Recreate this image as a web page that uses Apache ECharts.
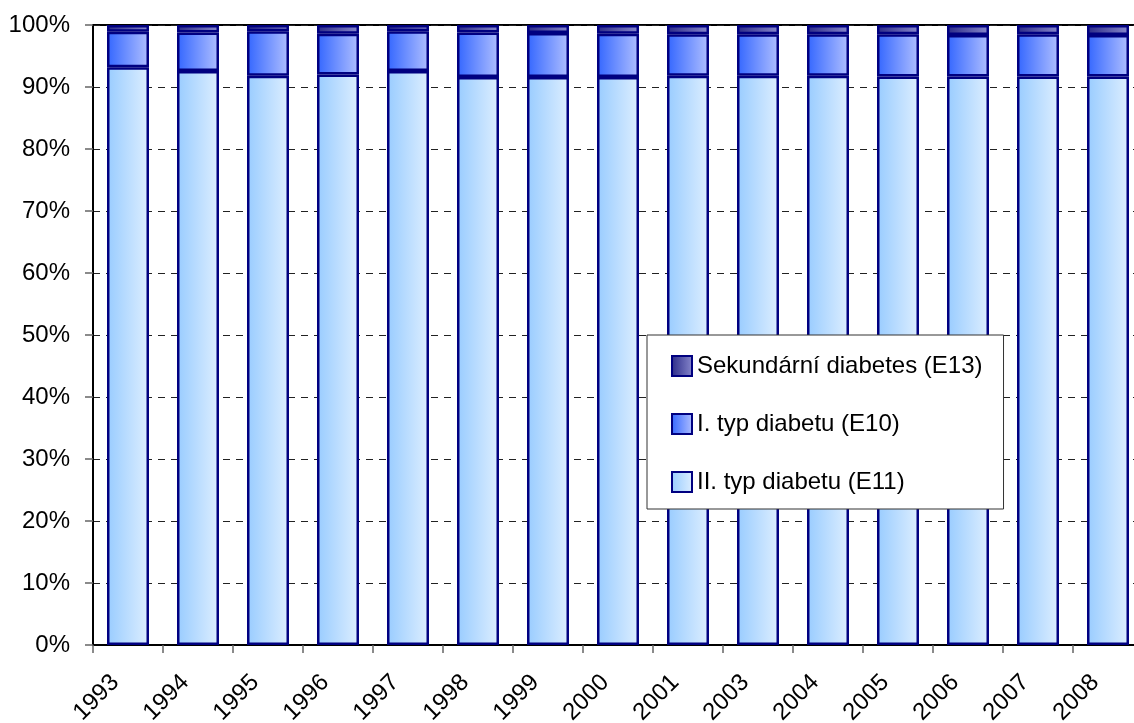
<!DOCTYPE html>
<html>
<head>
<meta charset="utf-8">
<script src="https://cdn.jsdelivr.net/npm/echarts@6/dist/echarts.min.js"></script>
<style>
html,body{margin:0;padding:0;background:#fff;}
#c{width:1134px;height:723px;}
</style>
</head>
<body>
<div id="c"></div>
<script>
var years = ['1993','1994','1995','1996','1997','1998','1999','2000','2001','2003','2004','2005','2006','2007','2008'];
var typ2 = [93.2,92.6,91.8,92.0,92.6,91.6,91.6,91.6,91.8,91.8,91.8,91.7,91.7,91.7,91.7];
var typ1 = [5.7,6.2,7.2,6.6,6.4,7.2,7.1,7.0,6.7,6.7,6.7,6.8,6.7,6.8,6.7];
var sekund = [1.1,1.2,1.0,1.4,1.0,1.2,1.3,1.4,1.5,1.5,1.5,1.5,1.6,1.5,1.6];
var yTicks = [0,10,20,30,40,50,60,70,80,90,100];

var FONT = "'Liberation Sans',Arial,sans-serif";
function grad(a,b){
  return new echarts.graphic.LinearGradient(0,0,1,0,[{offset:0,color:a},{offset:1,color:b}]);
}
var chart = echarts.init(document.getElementById('c'), null, {renderer:'canvas'});
var border = {borderColor:'#000080', borderWidth:2.5};
chart.setOption({
  animation:false,
  backgroundColor:'#fff',
  grid:{left:93, top:25, right:-9, bottom:78, show:true, borderColor:'#000', borderWidth:2, backgroundColor:'transparent', containLabel:false, outerBoundsMode:'none'},
  legend:{
    orient:'vertical', left:647, top:335,
    data:['Sekundární diabetes (E13)','I. typ diabetu (E10)','II. typ diabetu (E11)'],
    backgroundColor:'#fff', borderColor:'#333', borderWidth:1, borderRadius:0,
    padding:[19,21,15,24], itemGap:34, itemWidth:20, itemHeight:20,
    icon:'rect',
    itemStyle:{borderColor:'#000080', borderWidth:2},
    textStyle:{fontFamily:FONT, fontSize:24, color:'#000'}
  },
  xAxis:{
    type:'category', data:years,
    axisLine:{lineStyle:{color:'#000', width:2}},
    axisTick:{show:true, length:8, lineStyle:{color:'#666', width:1.5}},
    axisLabel:{rotate:45, fontFamily:FONT, fontSize:24, color:'#000', margin:21, padding:[0,18,0,0], interval:0}
  },
  yAxis:{
    type:'value', min:0, max:100, interval:10,
    axisLine:{show:true, lineStyle:{color:'#000', width:2}},
    axisTick:{show:true, length:8, lineStyle:{color:'#666', width:1.5}},
    axisLabel:{formatter:function(v){return yTicks.indexOf(v)>=0 ? v+'%' : '';}, fontFamily:FONT, fontSize:24, color:'#000', margin:23},
    splitLine:{show:true, lineStyle:{color:'#222', width:1, type:[7,6]}}
  },
  series:[
    {name:'II. typ diabetu (E11)', type:'bar', stack:'a', data:typ2, barWidth:42,
      itemStyle:Object.assign({color:grad('#99ccff','#ddeeff')}, border)},
    {name:'I. typ diabetu (E10)', type:'bar', stack:'a', data:typ1, barWidth:42,
      itemStyle:Object.assign({color:grad('#3366ff','#b0bfff')}, border)},
    {name:'Sekundární diabetes (E13)', type:'bar', stack:'a', data:sekund, barWidth:42,
      itemStyle:Object.assign({color:grad('#2a2a88','#8888cc')}, border)}
  ]
});
</script>
</body>
</html>
